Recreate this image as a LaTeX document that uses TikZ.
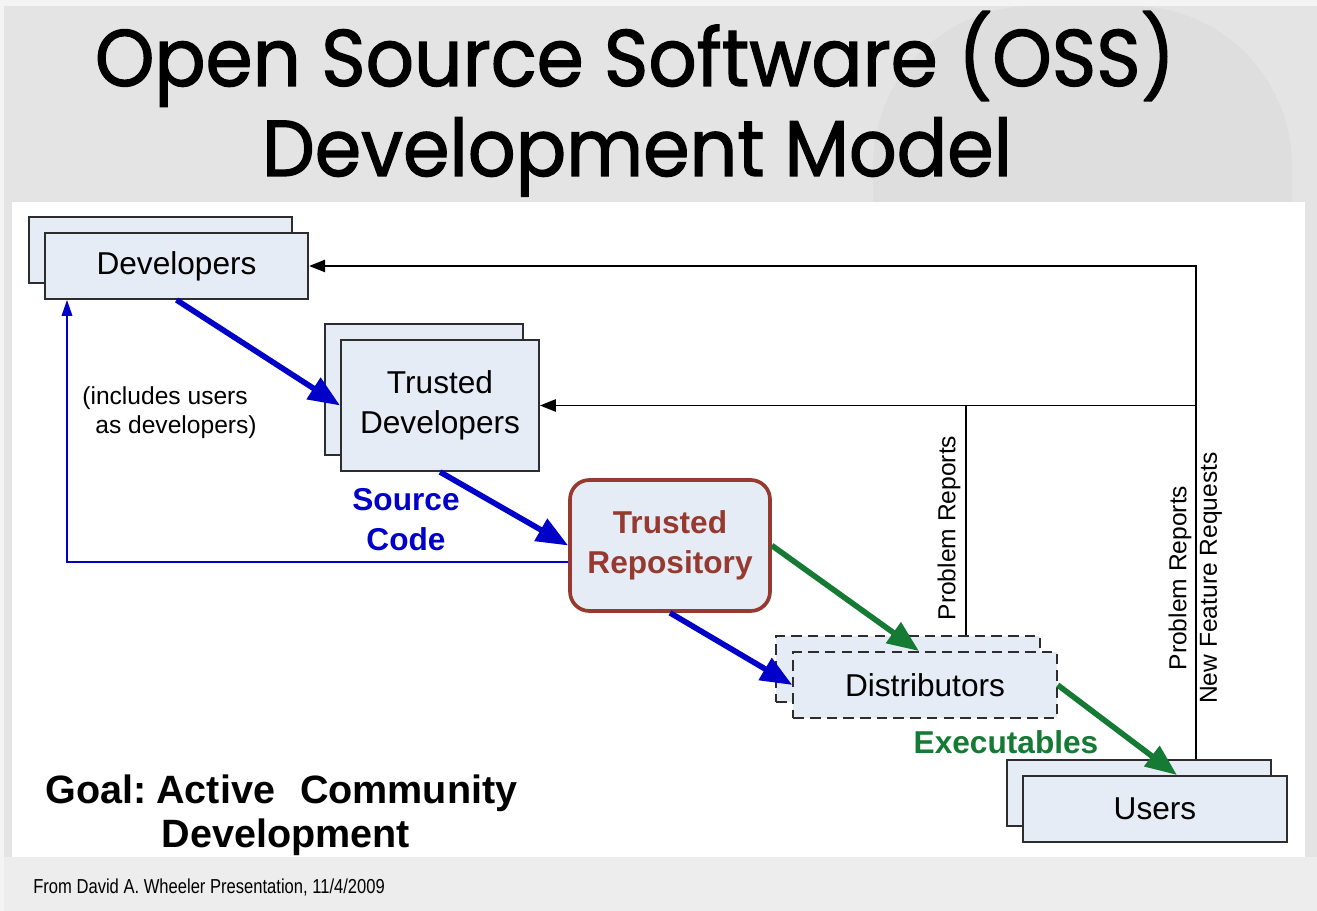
\documentclass[tikz,border=0pt]{standalone}
\usepackage{fontspec}
\setmainfont{Liberation Sans}
\newfontfamily\titlefont[FakeBold=1.6]{Poppins}
\usetikzlibrary{arrows.meta,calc}

\definecolor{slidegray}{RGB}{228,228,228}
\definecolor{slidedark}{RGB}{222,222,222}
\definecolor{slidelight}{RGB}{237,237,237}
\definecolor{boxfill}{RGB}{230,236,246}
\definecolor{boxline}{RGB}{45,45,45}
\definecolor{repobrown}{RGB}{150,58,48}
\definecolor{codeblue}{RGB}{0,0,200}
\definecolor{exegreen}{RGB}{20,122,52}

\begin{document}
\begin{tikzpicture}[x=0.02cm,y=-0.02cm,
  box/.style={draw=boxline, line width=1.1pt, fill=boxfill, inner sep=0pt,
    align=center, font=\fontsize{18}{22.7}\selectfont},
  widebox/.style={box, minimum width=5.27cm, minimum height=1.32cm},
  tallbox/.style={box, minimum width=3.96cm, minimum height=2.62cm},
  dashbox/.style={widebox, dash pattern=on 6pt off 3.5pt},
  repobox/.style={box, draw=repobrown, line width=2.1pt, rounded corners=11pt,
    minimum width=4.0cm, minimum height=2.62cm, text=repobrown,
    font=\fontsize{18}{22.7}\selectfont\bfseries},
  flowblue/.style={draw=codeblue, line width=3.2pt,
    -{Triangle[length=18pt,width=14pt]}},
  flowgreen/.style={draw=exegreen, line width=3.2pt,
    -{Triangle[length=18pt,width=14pt]}},
  feedback/.style={draw=black, line width=0.85pt,
    -{Triangle[length=9pt,width=7pt]}},
  plainline/.style={draw=black, line width=0.85pt},
  returnline/.style={draw=codeblue, line width=0.85pt,
    -{Triangle[length=9pt,width=6pt]}},
  vlabel/.style={rotate=90, font=\fontsize{14}{17}\selectfont, inner sep=0pt},
  flowlabel/.style={font=\fontsize{18}{22.7}\selectfont\bfseries, align=center}
]
\useasboundingbox (0,0) rectangle (1317,911);

% slide background with faint watermark shapes
\fill[slidegray] (0,0) rectangle (1317,911);
\fill[slidedark, rounded corners=3.2cm] (873,6) rectangle (1292,940);
\fill[slidelight] (0,857) rectangle (1317,911);
\fill[white!60!slidegray] (0,0) rectangle (1317,6);
\fill[white!60!slidegray] (0,0) rectangle (4,911);
\fill[white] (12,202) rectangle (1305,857);

% title
\node[anchor=base, inner sep=0pt] (title1) at (635,86)
  {\scalebox{1}[1.06]{\resizebox{21.6cm}{!}{\titlefont Open Source Software (OSS)}}};
\node[anchor=base, inner sep=0pt] (title2) at (637,176)
  {\scalebox{1}[1.06]{\resizebox{15.0cm}{!}{\titlefont Development Model}}};

% stacked boxes: back copies first
\node[widebox] (devb) at (160.5,250) {};
\node[widebox] (dev) at (176.5,266) {Developers};

\node[tallbox] (tdevb) at (424,389.5) {};
\node[tallbox] (tdev) at (440,405.5) {Trusted\\Developers};

\node[repobox] (repo) at (670,545.5) {Trusted\\Repository};

\node[dashbox] (distb) at (908,669) {};
\node[dashbox] (dist) at (925,685) {Distributors};

\node[widebox] (usersb) at (1139,793) {};
\node[widebox] (users) at (1155,809) {Users};

% routing points of the feedback lines
\coordinate (fb) at (1196,0);
\coordinate (pr) at (966,0);
\coordinate (ret) at (67,562);

% feedback from users and distributors
\draw[feedback] (usersb.north -| fb) |- (dev.east);
\draw[feedback] (fb |- tdev.east) -- (tdev.east);
\draw[plainline] (distb.north -| pr) -- (pr |- tdev.east);

% users become developers
\draw[returnline] (repo.west |- ret) -| (dev.south -| ret);

% source code flow
\draw[flowblue] (dev.south) -- (tdev.west);
\draw[flowblue] (tdev.south) -- (repo.west);
\draw[flowblue] (repo.south) -- (dist.west);

% executables flow
\draw[flowgreen] (repo.east) -- ($(dist.north)+(-6,0)$);
\draw[flowgreen] (dist.east) -- ($(users.north)+(22,0)$);

% labels
\node[anchor=base west, align=left, inner sep=0pt, font=\fontsize{14}{17}\selectfont]
  (note) at (82,434) {(includes users\\\hspace*{0.26cm}as developers)};
\node[flowlabel, text=codeblue] (srclabel) at (406,520) {Source\\Code};
\node[flowlabel, text=exegreen] (exelabel) at (1006,742) {Executables};

\node[vlabel] (pr1) at (949,528) {Problem Reports};
\node[vlabel] (pr2) at (1180,578) {Problem Reports};
\node[vlabel] (nfr) at (1211,578) {New Feature Requests};

\node[anchor=base west, inner sep=0pt] (goal) at (45,803)
  {\fontsize{22.5}{27}\selectfont\bfseries Goal:\hspace{0.2cm}Active\hspace{0.5cm}Community};
\node[anchor=base, inner sep=0pt] (goal2) at (286,847)
  {\fontsize{22.5}{27}\selectfont\bfseries Development};

\node[anchor=base west, inner sep=0pt] (credit) at (33,893)
  {\scalebox{0.82}[1]{\fontsize{11.5}{14}\selectfont From David A. Wheeler Presentation, 11/4/2009}};
\end{tikzpicture}
\end{document}
